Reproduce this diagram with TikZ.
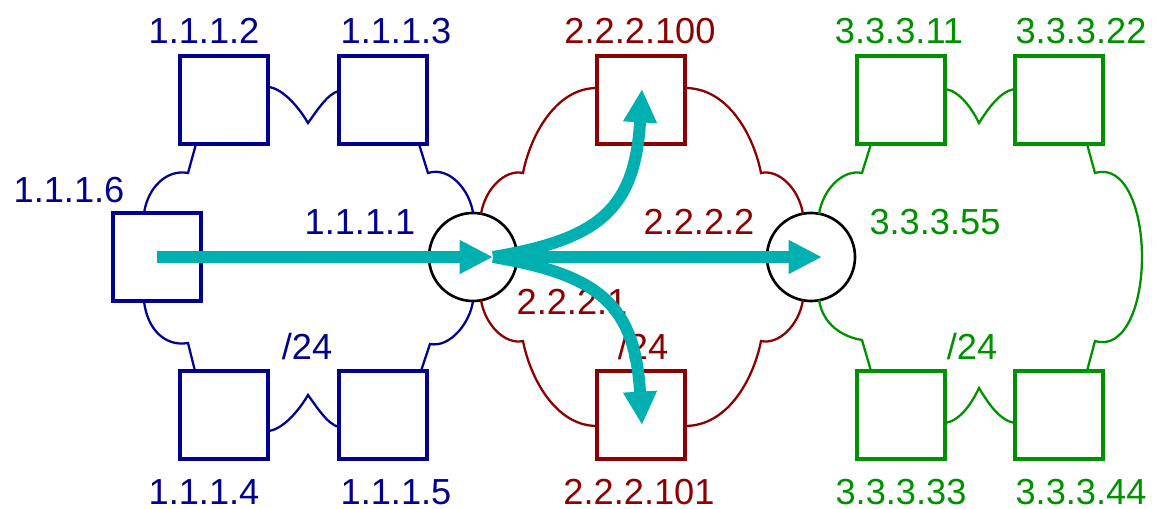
\documentclass[tikz,border=0pt]{standalone}
\usepackage{fontspec}
\setmainfont{Liberation Sans}
\usetikzlibrary{arrows.meta}
\definecolor{netblue}{RGB}{0,0,145}
\definecolor{netred}{RGB}{140,0,0}
\definecolor{netgreen}{RGB}{0,145,0}
\definecolor{flowteal}{RGB}{0,176,176}
\begin{document}
\begin{tikzpicture}[x=0.01cm, y=0.01cm,
  host/.style={draw=#1, line width=1.1pt, minimum size=0.88cm, inner sep=0pt},
  router/.style={draw, circle, line width=0.75pt, minimum size=0.88cm, inner sep=0pt},
  addr/.style={text=#1, font=\fontsize{10.3}{12}\selectfont, inner sep=0pt},
  cloud/.style={draw=#1, line width=0.65pt},
  flow/.style={draw=flowteal, line width=3.4pt, -{Triangle[length=9.5pt,width=9pt]}}]
  \useasboundingbox (0,0) rectangle (1156,509);
  % hosts and routers
  \node (h2) [host=netblue] at (224,409) {};
  \node (h3) [host=netblue] at (383,409) {};
  \node (h6) [host=netblue] at (157,252) {};
  \node (h4) [host=netblue] at (224,94) {};
  \node (h5) [host=netblue] at (383,94) {};
  \node (h100) [host=netred] at (641,409) {};
  \node (h101) [host=netred] at (641,94) {};
  \node (h11) [host=netgreen] at (901,409) {};
  \node (h22) [host=netgreen] at (1059,409) {};
  \node (h33) [host=netgreen] at (901,94) {};
  \node (h44) [host=netgreen] at (1059,94) {};
  \node (R1) [router] at (473,252) {};
  \node (R2) [router] at (811,252) {};
  % subnet 1.1.1.0/24
  \draw[cloud=netblue] (268,422) .. controls (283,421) and (300,400) .. (308,386)
    .. controls (316,397) and (328,416) .. (339,418);
  \draw[cloud=netblue] (419,365) -- (428,336) .. controls (450,343) and (470,318) .. (473,296);
  \draw[cloud=netblue] (473,208) .. controls (470,186) and (450,161) .. (430,165) -- (421,138);
  \draw[cloud=netblue] (339,82) .. controls (328,84) and (316,103) .. (308,114)
    .. controls (300,100) and (283,79) .. (268,78);
  \draw[cloud=netblue] (195,138) -- (188,166) .. controls (165,162) and (147,180) .. (144,208);
  \draw[cloud=netblue] (144,296) .. controls (148,322) and (167,340) .. (188,336) -- (196,365);
  % subnet 2.2.2.0/24
  \draw[cloud=netred] (481,295) .. controls (485,320) and (505,340) .. (523,336)
    .. controls (530,372) and (555,421) .. (597,421);
  \draw[cloud=netred] (685,421) .. controls (729,421) and (754,372) .. (761,336)
    .. controls (779,340) and (799,320) .. (803,295);
  \draw[cloud=netred] (803,209) .. controls (799,184) and (779,164) .. (761,168)
    .. controls (754,132) and (729,83) .. (685,83);
  \draw[cloud=netred] (597,83) .. controls (555,83) and (530,132) .. (523,168)
    .. controls (505,164) and (485,184) .. (481,209);
  % subnet 3.3.3.0/24
  \draw[cloud=netgreen] (819,295) .. controls (823,320) and (843,340) .. (862,336) -- (871,365);
  \draw[cloud=netgreen] (945,420) .. controls (960,418) and (972,400) .. (979,386)
    .. controls (988,400) and (1000,418) .. (1015,420);
  \draw[cloud=netgreen] (1087,365) -- (1095,336) .. controls (1125,345) and (1142,300) .. (1142,252)
    .. controls (1142,204) and (1125,159) .. (1095,168) -- (1087,138);
  \draw[cloud=netgreen] (1015,86) .. controls (1000,88) and (988,106) .. (979,121)
    .. controls (972,106) and (960,88) .. (945,86);
  \draw[cloud=netgreen] (871,138) -- (862,169) .. controls (843,172) and (823,184) .. (819,209);
  % addresses
  \node (l2) [addr=netblue] at (204,478) {1.1.1.2};
  \node (l3) [addr=netblue] at (396,478) {1.1.1.3};
  \node (l6) [addr=netblue] at (69,319) {1.1.1.6};
  \node (l1) [addr=netblue] at (360,287) {1.1.1.1};
  \node (m1) [addr=netblue] at (307,162) {/24};
  \node (l4) [addr=netblue] at (204,17) {1.1.1.4};
  \node (l5) [addr=netblue] at (396,17) {1.1.1.5};
  \node (l100) [addr=netred] at (640,478) {2.2.2.100};
  \node (l22) [addr=netred] at (699,287) {2.2.2.2};
  \node (l21) [addr=netred] at (572,207) {2.2.2.1};
  \node (m2) [addr=netred] at (643,162) {/24};
  \node (l101) [addr=netred] at (639,17) {2.2.2.101};
  \node (l11) [addr=netgreen] at (899,478) {3.3.3.11};
  \node (l22g) [addr=netgreen] at (1081,478) {3.3.3.22};
  \node (l55) [addr=netgreen] at (935,287) {3.3.3.55};
  \node (m3) [addr=netgreen] at (972,162) {/24};
  \node (l33) [addr=netgreen] at (901,17) {3.3.3.33};
  \node (l44) [addr=netgreen] at (1081,17) {3.3.3.44};
  % traffic
  \coordinate (fork) at (493,252);
  \coordinate (t2) at (822,252);
  \coordinate (t100) at (642,420);
  \coordinate (t101) at (642,84);
  \draw[flow] (h6.center) -- (fork);
  \draw[flow] (fork) -- (t2);
  \draw[flow] (fork) .. controls (600,270) and (635,300) .. (t100);
  \draw[flow] (fork) .. controls (600,234) and (635,204) .. (t101);
\end{tikzpicture}
\end{document}
